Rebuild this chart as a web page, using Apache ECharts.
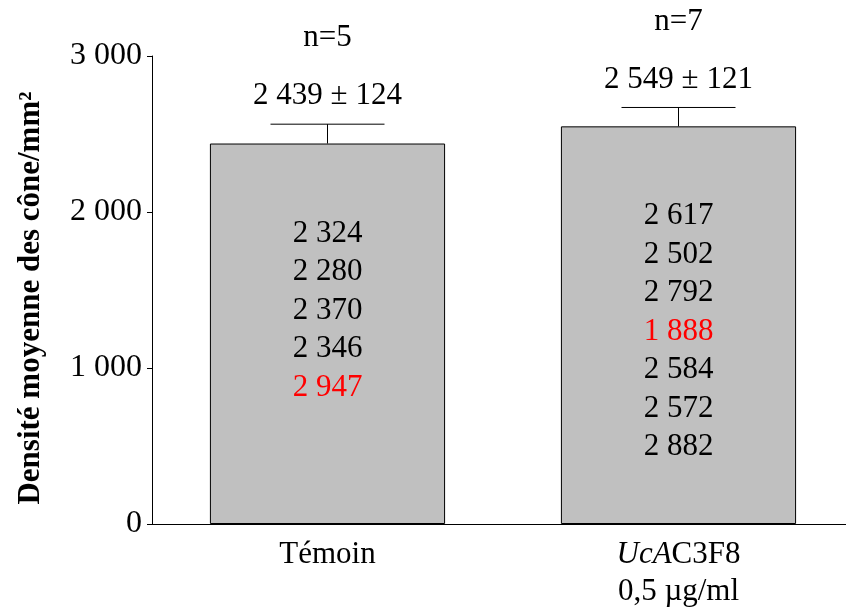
<!DOCTYPE html>
<html>
<head>
<meta charset="utf-8">
<script src="https://cdn.jsdelivr.net/npm/echarts@6/dist/echarts.min.js"></script>
<style>
  html, body { margin: 0; padding: 0; background: #fff; overflow: hidden; }
  #chart { width: 854px; height: 613px; }
</style>
</head>
<body>
<div id="chart"></div>
<script>
// données
const categories = ['Témoin', 'UcAC3F8']
const means = [2439, 2549]
const sems = [124, 121]
const nCounts = [5, 7]
const individuals = [
  [2324, 2280, 2370, 2346, 2947],
  [2617, 2502, 2792, 1888, 2584, 2572, 2882]
]
// valeurs écartées (affichées en rouge)
const outliers = [[2947], [1888]]
const yTicks = [0, 1000, 2000, 3000]

const font = 'Liberation Serif'
const valFont = '31px "Liberation Serif"'
const fmt = v => v >= 1000 ? Math.floor(v / 1000) + ' ' + String(v % 1000).padStart(3, '0') : String(v)

const chart = echarts.init(document.getElementById('chart'))
const option = {
  animation: false,
  textStyle: { fontFamily: font },
  grid: { left: 152, right: 0, top: 56, bottom: 89 },
  xAxis: {
    type: 'category',
    data: categories,
    axisLine: { lineStyle: { color: '#000', width: 1 } },
    axisTick: { alignWithLabel: true, length: 6, lineStyle: { color: '#000' } },
    axisLabel: {
      margin: 12,
      color: '#000',
      fontFamily: font,
      fontSize: 31,
      formatter: v => v === 'UcAC3F8' ? '{it|UcA}{n|C3F8}\n{n|0,5 µg/ml}' : '{n|' + v + '}',
      rich: {
        n: { fontFamily: font, fontSize: 31, color: '#000', lineHeight: 37 },
        it: { fontFamily: font, fontSize: 31, fontStyle: 'italic', color: '#000', lineHeight: 37 }
      }
    }
  },
  yAxis: {
    type: 'value',
    min: yTicks[0],
    max: yTicks[yTicks.length - 1],
    interval: 1000,
    splitLine: { show: false },
    axisLine: { show: true, lineStyle: { color: '#000', width: 1 } },
    axisTick: { show: true, length: 5, lineStyle: { color: '#000' } },
    axisLabel: { margin: 10, color: '#000', fontFamily: font, fontSize: 32, formatter: v => fmt(v) },
    name: 'Densité moyenne des cône/mm²',
    nameLocation: 'middle',
    nameRotate: 90,
    nameGap: 106,
    nameTextStyle: { fontFamily: font, fontSize: 31, fontWeight: 'bold', color: '#000', padding: [0, 16, 0, 0] }
  },
  series: [
    {
      type: 'bar',
      data: means,
      barWidth: '67%',
      itemStyle: { color: '#c0c0c0', borderColor: '#000', borderWidth: 1 }
    },
    {
      type: 'custom',
      clip: false,
      z: 5,
      data: means.map((m, i) => [i, m, sems[i]]),
      renderItem: (params, api) => {
        const i = api.value(0)
        const m = api.value(1)
        const s = api.value(2)
        const base = api.coord([i, m])
        const top = api.coord([i, m + s])
        const x = base[0]
        const half = 57
        const lineStyle = { stroke: '#000', lineWidth: 1 }
        const children = [
          { type: 'line', shape: { x1: x, y1: base[1], x2: x, y2: top[1] }, style: lineStyle },
          { type: 'line', shape: { x1: x - half, y1: top[1], x2: x + half, y2: top[1] }, style: lineStyle },
          {
            type: 'text',
            style: { text: fmt(m) + ' ± ' + s, x: x, y: top[1] - 28, align: 'center', verticalAlign: 'middle', font: valFont, fill: '#000' }
          },
          {
            type: 'text',
            style: { text: 'n=' + nCounts[i], x: x, y: top[1] - 86, align: 'center', verticalAlign: 'middle', font: valFont, fill: '#000' }
          }
        ]
        individuals[i].forEach((v, k) => {
          children.push({
            type: 'text',
            style: {
              text: fmt(v), x: x, y: base[1] + 90 + k * 38.5,
              align: 'center', verticalAlign: 'middle',
              font: valFont,
              fill: outliers[i].includes(v) ? '#ff0000' : '#000'
            }
          })
        })
        return { type: 'group', children: children }
      }
    }
  ]
}
chart.setOption(option)
</script>
</body>
</html>
